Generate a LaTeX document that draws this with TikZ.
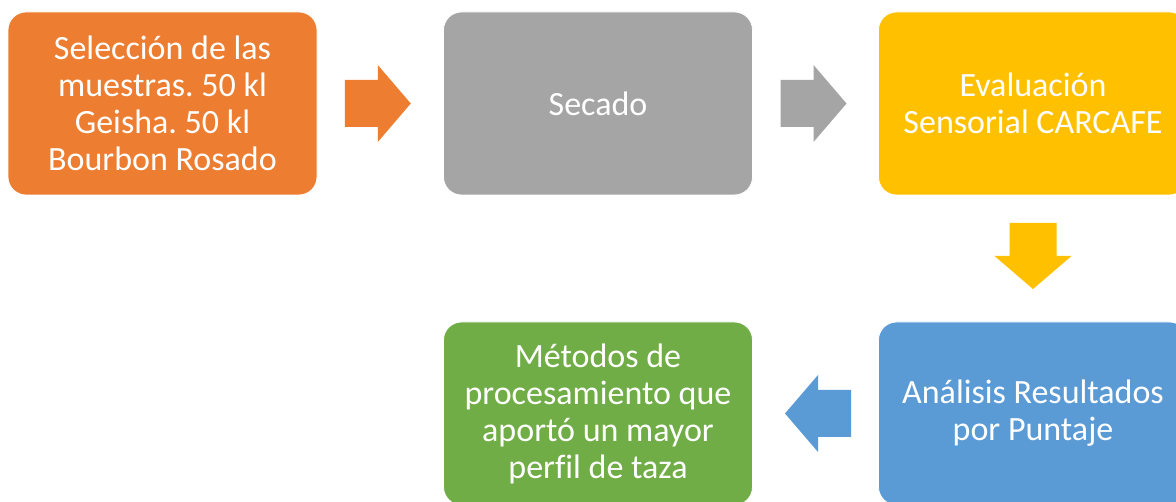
\documentclass[tikz,border=0pt]{standalone}
\usepackage{fontspec}
\setmainfont{Carlito}[Ligatures=NoCommon]
\usetikzlibrary{calc}
\definecolor{cOrange}{HTML}{ED7D31}
\definecolor{cGray}{HTML}{A5A5A5}
\definecolor{cYellow}{HTML}{FFC000}
\definecolor{cBlue}{HTML}{5B9BD5}
\definecolor{cGreen}{HTML}{70AD47}
\tikzset{
  stepbox/.style={rectangle, rounded corners=18pt, minimum width=309pt, minimum height=183pt,
    inner sep=0pt, draw=white, line width=0.8pt, text=white, align=center,
    font=\fontsize{34}{37}\selectfont\frenchspacing},
  barrow/.pic={
    \fill[pic actions] (-33,-23.5) -- (0,-23.5) -- (0,-38.5) -- (33,0) -- (0,38.5) -- (0,23.5) -- (-33,23.5) -- cycle;
  }
}
\begin{document}
\begin{tikzpicture}[x=1pt,y=-1pt]
\useasboundingbox (0,0) rectangle (1176,502);
\clip (0,0) rectangle (1176,502);
\fill[white] (0,0) rectangle (1176,502);
\node[stepbox, fill=cOrange] (b1) at (162.5,103.5) {Selección de las\\muestras. 50 kl\\Geisha. 50 kl\\Bourbon Rosado};
\node[stepbox, fill=cGray] (b2) at (598,103.5) {Secado};
\node[stepbox, fill=cYellow] (b3) at (1033,103.5) {Evaluación\\Sensorial CARCAFE};
\node[stepbox, fill=cBlue] (b4) at (1033,413.5) {Análisis Resultados\\por Puntaje};
\node[stepbox, fill=cGreen] (b5) at (598,413.5) {Métodos de\\procesamiento que\\aportó un mayor\\perfil de taza};
\coordinate (m12) at ($(b1.east)!0.5!(b2.west)+(-2.5,0)$);
\coordinate (m23) at ($(b2.east)!0.5!(b3.west)+(-2,0)$);
\coordinate (m34) at ($(b3.south)!0.5!(b4.north)+(0,-2.5)$);
\coordinate (m45) at ($(b4.west)!0.5!(b5.east)+(2.5,0)$);
\pic[fill=cOrange] at (m12) {barrow};
\pic[fill=cGray] at (m23) {barrow};
\pic[fill=cYellow, rotate=-90] at (m34) {barrow};
\pic[fill=cBlue, rotate=180] at (m45) {barrow};
\end{tikzpicture}
\end{document}
